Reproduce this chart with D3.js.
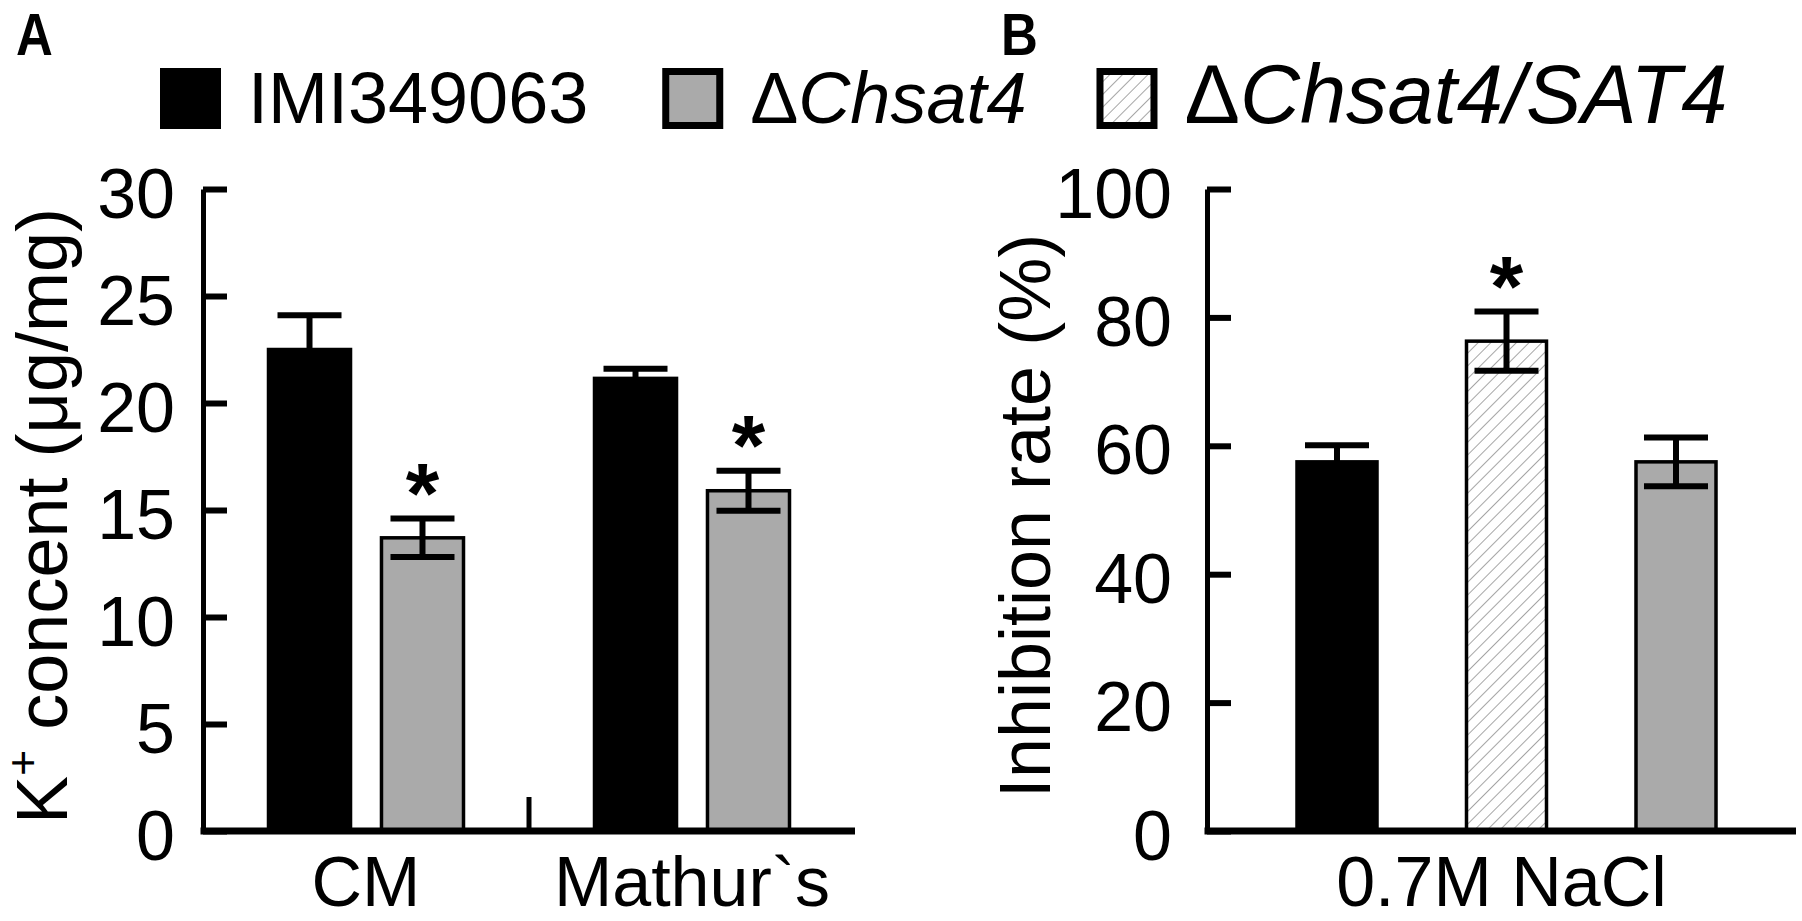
<!DOCTYPE html>
<html>
<head>
<meta charset="utf-8">
<script src="https://cdn.jsdelivr.net/npm/d3@7"></script>
<style>
	body { margin: 0; background: #fff; }
	svg text { font-family: "Liberation Sans", Arial, Helvetica, sans-serif; fill: #000; }
</style>
</head>
<body>
<div id="chart01"></div>
<script>
// Panel A: K+ content
var groupsA = ["CM", "Mathur`s"];
var seriesA = ["IMI349063", "ΔChsat4"];
var meansA = [[22.5, 13.7], [21.15, 15.9]];
var errorsA = [[1.6, 0.9], [0.45, 0.93]];
var sigA = [[false, true], [false, true]];
var ticksA = [0, 5, 10, 15, 20, 25, 30];

// Panel B: inhibition rate
var groupsB = ["0.7M NaCl"];
var seriesB = ["IMI349063", "ΔChsat4/SAT4", "ΔChsat4"];
var meansB = [[57.5, 76.3, 57.5]];
var errorsB = [[2.6, 4.6, 3.8]];
var sigB = [[false, true, false]];
var ticksB = [0, 20, 40, 60, 80, 100];

var legendLabels = ["IMI349063", "ΔChsat4", "ΔChsat4/SAT4"];

var width = 1802;
var height = 921;
var svg = d3.select("#chart01").append("svg").attr("width", width).attr("height", height);

// hatch pattern for the complemented strain
svg
	.append("defs")
	.append("pattern")
	.attr("id", "hatch")
	.attr("patternUnits", "userSpaceOnUse")
	.attr("width", 9)
	.attr("height", 9)
	.attr("patternTransform", "rotate(45)")
	.call((p) => p.append("rect").attr("width", 9).attr("height", 9).attr("fill", "#fff"))
	.append("line")
	.attr("x1", 0)
	.attr("y1", 0)
	.attr("x2", 0)
	.attr("y2", 9)
	.attr("stroke", "#808080")
	.attr("stroke-width", 1.4);

var fills = {
	"IMI349063": "#000",
	"ΔChsat4": "#aaaaaa",
	"ΔChsat4/SAT4": "url(#hatch)",
};

function addLabel(sel, label) {
	if (label[0] === "Δ") {
		sel.append("tspan").attr("font-style", "normal").text("Δ");
		sel.append("tspan").attr("font-style", "italic").text(label.slice(1));
	} else {
		sel.text(label);
	}
}

function drawPanel(p) {
	var y = d3.scaleLinear().domain(p.yDomain).range([831, 189]);
	var x0 = d3.scaleBand().domain(p.groups).range(p.xRange);
	var x1 = d3
		.scaleBand()
		.domain(p.series)
		.range([-p.innerHalf + p.shift, p.innerHalf + p.shift])
		.paddingInner(p.innerPad);

	var g = svg.append("g");

	// Y-axis
	var yAxis = g
		.append("g")
		.attr("transform", `translate(${p.xRange[0]}, 0)`)
		.call(d3.axisLeft(y).tickValues(p.ticks).tickSize(-24).tickSizeOuter(0).tickPadding(p.tickPad));
	yAxis.select(".domain").attr("stroke", "#000").attr("stroke-width", 5);
	yAxis.selectAll(".tick line").attr("stroke", "#000").attr("stroke-width", 6);
	yAxis
		.selectAll(".tick text")
		.attr("font-size", "70px")
		.attr("dy", "0.4em")
		.style("font-family", '"Liberation Sans", Arial, sans-serif');

	// bars
	p.groups.forEach((grp, gi) => {
		var cx = x0(grp) + x0.bandwidth() / 2;
		p.series.forEach((s, si) => {
			var m = p.means[gi][si];
			var e = p.errors[gi][si];
			var bx = cx + x1(s);
			var mid = bx + x1.bandwidth() / 2;
			g.append("rect")
				.attr("x", bx)
				.attr("y", y(m))
				.attr("width", x1.bandwidth())
				.attr("height", y(0) - y(m))
				.attr("fill", fills[s])
				.attr("stroke", "#000")
				.attr("stroke-width", 3.5);

			var eb = g.append("g").attr("stroke", "#000").attr("stroke-width", 6);
			eb.append("line").attr("x1", mid).attr("x2", mid).attr("y1", y(m - e)).attr("y2", y(m + e));
			[m - e, m + e].forEach((v) => {
				eb.append("line")
					.attr("x1", mid - 32)
					.attr("x2", mid + 32)
					.attr("y1", y(v))
					.attr("y2", y(v));
			});

			if (p.sig[gi][si]) {
				g.append("text")
					.attr("x", mid)
					.attr("y", y(m + e) + 4)
					.attr("text-anchor", "middle")
					.attr("font-size", "86px")
					.attr("font-weight", "bold")
					.text("*");
			}
		});
	});

	// X-axis
	var xAxis = g
		.append("g")
		.attr("transform", `translate(0, ${y(0)})`)
		.call(d3.axisBottom(x0).tickSize(0).tickSizeOuter(0).tickPadding(25));
	xAxis.select(".domain").attr("stroke", "#000").attr("stroke-width", 7)
		.attr("d", `M${p.xRange[0] - 2.5},0H${p.xRange[1]}`);
	xAxis
		.selectAll(".tick text")
		.attr("font-size", "70px")
		.style("font-family", '"Liberation Sans", Arial, sans-serif');

	// small tick between groups
	p.groups.slice(1).forEach((grp) => {
		g.append("line")
			.attr("x1", x0(grp))
			.attr("x2", x0(grp))
			.attr("y1", y(0))
			.attr("y2", y(0) - 34)
			.attr("stroke", "#000")
			.attr("stroke-width", 5);
	});

	// Y-axis label
	var yl = g
		.append("text")
		.attr("transform", `translate(${p.labelX}, 516) rotate(-90)`)
		.attr("text-anchor", "middle")
		.attr("font-size", "72px");
	if (p.yLabel === "K") {
		yl.append("tspan").text("K");
		yl.append("tspan").attr("font-size", "45px").attr("dy", -29).text("+");
		yl.append("tspan").attr("dy", 29).text(" concent (μg/mg)");
	} else {
		yl.text(p.yLabel);
	}

	// panel letter, narrow bold
	svg.append("text")
		.attr("transform", `translate(${p.letterX}, 55) scale(0.85, 1)`)
		.attr("font-size", "60px")
		.attr("font-weight", "bold")
		.text(p.letter);
}

drawPanel({
	groups: groupsA, series: seriesA, means: meansA, errors: errorsA, sig: sigA,
	ticks: ticksA, yDomain: [0, 30], xRange: [203, 855], innerHalf: 97.5, innerPad: 0.274, shift: 0,
	tickPad: 28, labelX: 67, yLabel: "K", letter: "A", letterX: 16,
});

drawPanel({
	groups: groupsB, series: seriesB, means: meansB, errors: errorsB, sig: sigB,
	ticks: ticksB, yDomain: [0, 100], xRange: [1207, 1796], innerHalf: 209.5, innerPad: 0.528, shift: 5,
	tickPad: 35, labelX: 1050, yLabel: "Inhibition rate (%)", letter: "B", letterX: 1001,
});

// Legend
var legendSizes = [72, 72, 83];
var lx = 160;
legendLabels.forEach((label, i) => {
	svg.append("rect")
		.attr("x", lx + 3.5)
		.attr("y", 71.5)
		.attr("width", 54)
		.attr("height", 54)
		.attr("fill", fills[label])
		.attr("stroke", "#000")
		.attr("stroke-width", 7);
	var t = svg.append("text")
		.attr("x", lx + 61 + 27)
		.attr("y", 123)
		.attr("font-size", legendSizes[i] + "px");
	addLabel(t, label);
	lx = lx + 61 + 27 + t.node().getComputedTextLength() + (i === 0 ? 74 : 70);
});
</script>
</body>
</html>
